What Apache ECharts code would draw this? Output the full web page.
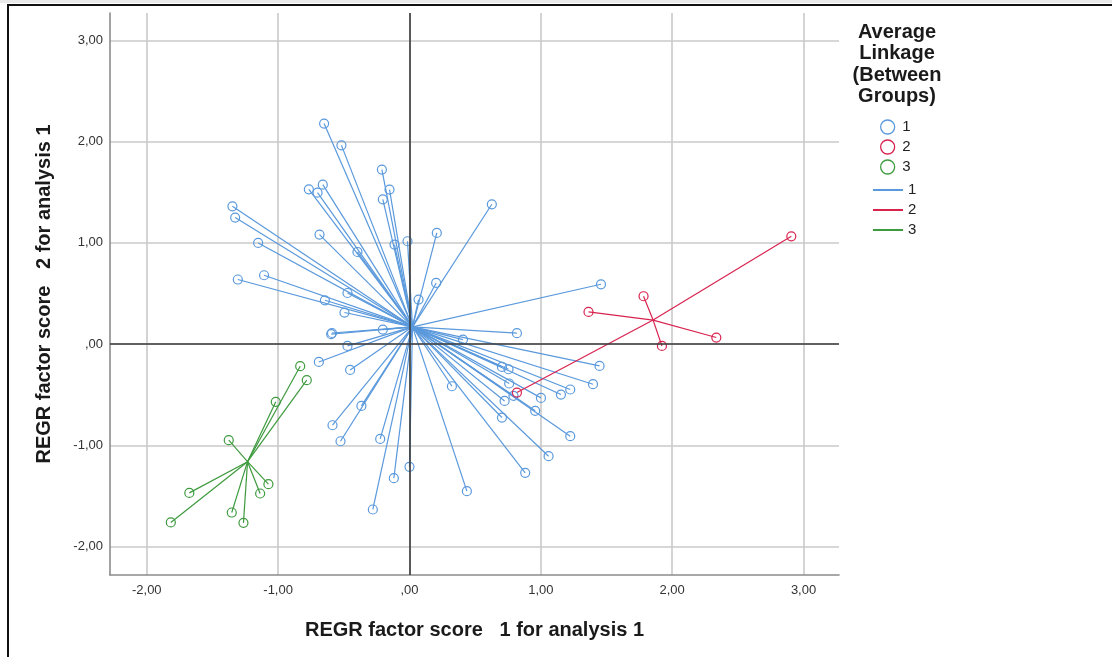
<!DOCTYPE html>
<html>
<head>
<meta charset="utf-8">
<script src="https://cdn.jsdelivr.net/npm/echarts@6/dist/echarts.min.js"></script>
<style>
  html, body { margin: 0; padding: 0; background: #fff; }
  #chart { width: 1112px; height: 657px; }
</style>
</head>
<body>
<div id="chart"></div>
<script>
// Factor scores (factor 1, factor 2) of each case, grouped by cluster membership
const cluster1 = [
  [-0.650, 2.178], [-0.518, 1.963], [-0.210, 1.724], [-0.152, 1.526], [-0.203, 1.430],
  [-0.660, 1.575], [-0.766, 1.529], [-0.700, 1.496], [-1.348, 1.361], [-1.327, 1.250],
  [-0.685, 1.082], [-1.152, 0.999], [-0.396, 0.910], [-0.114, 0.983], [-0.015, 1.016],
  [-1.307, 0.638], [-1.107, 0.680], [-0.472, 0.505], [-0.644, 0.433], [-0.495, 0.312],
  [0.069, 0.440], [-0.596, 0.098], [-0.590, 0.110], [-0.203, 0.144], [-0.472, -0.018],
  [-0.452, -0.255], [0.203, 0.604], [0.407, 0.045], [0.627, 1.381], [0.208, 1.098],
  [1.458, 0.591], [0.818, 0.108], [-0.690, -0.176], [-0.366, -0.610], [-0.586, -0.801],
  [-0.525, -0.959], [-0.223, -0.936], [0.000, -1.212], [-0.119, -1.324], [-0.279, -1.633],
  [1.447, -0.215], [1.397, -0.396], [0.704, -0.225], [0.754, -0.248], [0.759, -0.389],
  [1.224, -0.448], [1.153, -0.498], [1.001, -0.531], [0.724, -0.561], [0.792, -0.511],
  [0.323, -0.416], [0.957, -0.659], [0.704, -0.725], [1.224, -0.909], [1.059, -1.107],
  [0.881, -1.271], [0.437, -1.452]
];
const cluster2 = [
  [2.907, 1.065], [1.782, 0.473], [1.363, 0.318], [2.336, 0.065], [1.922, -0.018], [0.818, -0.478]
];
const cluster3 = [
  [-0.832, -0.218], [-0.782, -0.356], [-1.018, -0.570], [-1.376, -0.949], [-1.074, -1.383],
  [-1.137, -1.475], [-1.676, -1.469], [-1.353, -1.663], [-1.264, -1.765], [-1.817, -1.761]
];
const clusterLabels = ['1', '2', '3'];
const axisTicks = [-2, -1, 0, 1, 2, 3];

const xTitle = 'REGR factor score   1 for analysis 1';
const yTitle = 'REGR factor score   2 for analysis 1';
const legendTitle = 'Average\nLinkage\n(Between\nGroups)';

const clusters = [cluster1, cluster2, cluster3];
const colors = ['#5a99dc', '#d8234f', '#3e9a3e'];
const FONT = '"Liberation Sans", Arial, Helvetica, sans-serif';
const AXIS_MIN = -2.28, AXIS_MAX = 3.27;

// group centre = mean of its members; every case is linked to it
function centroid(pts) {
  let sx = 0, sy = 0;
  pts.forEach(p => { sx += p[0]; sy += p[1]; });
  return [sx / pts.length, sy / pts.length];
}

function tickText(v) {
  if (!axisTicks.some(t => Math.abs(t - v) < 1e-6)) return '';
  const s = Math.abs(v).toFixed(2).replace('.', ',');
  const body = s.startsWith('0,') ? s.slice(1) : s;
  return (v < -1e-9 ? '-' : '') + body;
}

const series = [];
clusters.forEach((pts, i) => {
  const c = centroid(pts);
  series.push({
    name: 'Link ' + clusterLabels[i],
    type: 'custom',
    data: pts,
    encode: { x: 0, y: 1 },
    itemStyle: { color: colors[i] },
    z: 2,
    silent: true,
    renderItem: function (params, api) {
      const a = api.coord(c);
      const b = api.coord([api.value(0), api.value(1)]);
      return {
        type: 'line',
        shape: { x1: a[0], y1: a[1], x2: b[0], y2: b[1] },
        style: { stroke: colors[i], lineWidth: 1.2 }
      };
    }
  });
});
clusters.forEach((pts, i) => {
  series.push({
    name: 'Case ' + clusterLabels[i],
    type: 'scatter',
    data: pts,
    symbol: 'circle',
    symbolSize: 9,
    z: 3,
    silent: true,
    itemStyle: { color: 'rgba(255,255,255,0)', borderColor: colors[i], borderWidth: 1.2, opacity: 1 }
  });
});
// reference lines through the origin
series.push({
  name: 'origin',
  type: 'scatter',
  data: [],
  z: 1,
  silent: true,
  markLine: {
    silent: true,
    symbol: ['none', 'none'],
    label: { show: false },
    lineStyle: { color: '#3a3a3a', width: 1.6, type: 'solid' },
    data: [{ xAxis: 0 }, { yAxis: 0 }]
  }
});

function valueAxis(name, isY) {
  return {
    type: 'value',
    min: AXIS_MIN,
    max: AXIS_MAX,
    minInterval: 1,
    maxInterval: 1,
    name: name,
    nameLocation: 'middle',
    nameGap: isY ? 56 : 45,
    nameTextStyle: { fontFamily: FONT, fontSize: 20, fontWeight: 'bold', color: '#1a1a1a' },
    axisLine: { show: true, onZero: false, lineStyle: { color: '#8c8c8c', width: 1.6 } },
    axisTick: { show: false },
    axisLabel: {
      show: true,
      margin: isY ? 7 : 9,
      fontFamily: FONT,
      fontSize: 13,
      color: '#333',
      showMinLabel: false,
      showMaxLabel: false,
      formatter: tickText
    },
    splitLine: {
      show: true,
      showMinLine: false,
      showMaxLine: false,
      lineStyle: { color: '#cacaca', width: 1.6 }
    }
  };
}

const chart = echarts.init(document.getElementById('chart'), null, { renderer: 'canvas' });
chart.setOption({
  backgroundColor: '#ffffff',
  animation: false,
  grid: { left: 110, right: 273, top: 13, bottom: 82, containLabel: false },
  xAxis: valueAxis(xTitle, false),
  yAxis: valueAxis(yTitle, true),
  legend: [
    {
      data: clusterLabels.map(l => 'Case ' + l),
      orient: 'vertical',
      left: 880,
      top: 117,
      padding: 0,
      itemGap: 0,
      itemWidth: 19,
      itemHeight: 14,
      icon: 'circle',
      symbolKeepAspect: true,
      selectedMode: false,
      itemStyle: { color: 'rgba(255,255,255,0)', borderWidth: 1.3 },
      formatter: n => n.replace('Case ', ''),
      textStyle: { fontFamily: FONT, fontSize: 15, color: '#222', lineHeight: 20 }
    },
    {
      data: clusterLabels.map(l => 'Link ' + l),
      orient: 'vertical',
      left: 873,
      top: 180,
      padding: 0,
      itemGap: 0,
      itemWidth: 30,
      itemHeight: 2,
      icon: 'rect',
      selectedMode: false,
      itemStyle: { borderWidth: 0 },
      formatter: n => n.replace('Link ', ''),
      textStyle: { fontFamily: FONT, fontSize: 15, color: '#222', lineHeight: 20 }
    }
  ],
  graphic: [
    { type: 'rect', silent: true, shape: { x: 0, y: 0, width: 1112, height: 3 }, style: { fill: '#e9e9e9' } },
    { type: 'line', silent: true, shape: { x1: 7, y1: 5, x2: 1112, y2: 5 }, style: { stroke: '#111', lineWidth: 2 } },
    { type: 'line', silent: true, shape: { x1: 8, y1: 4, x2: 8, y2: 657 }, style: { stroke: '#111', lineWidth: 2 } },
    {
      type: 'text',
      silent: true,
      x: 897,
      y: 22,
      style: {
        text: legendTitle,
        textAlign: 'center',
        textVerticalAlign: 'top',
        font: 'bold 20px ' + FONT,
        lineHeight: 21.3,
        fill: '#1a1a1a'
      }
    }
  ],
  series: series
});
</script>
</body>
</html>
